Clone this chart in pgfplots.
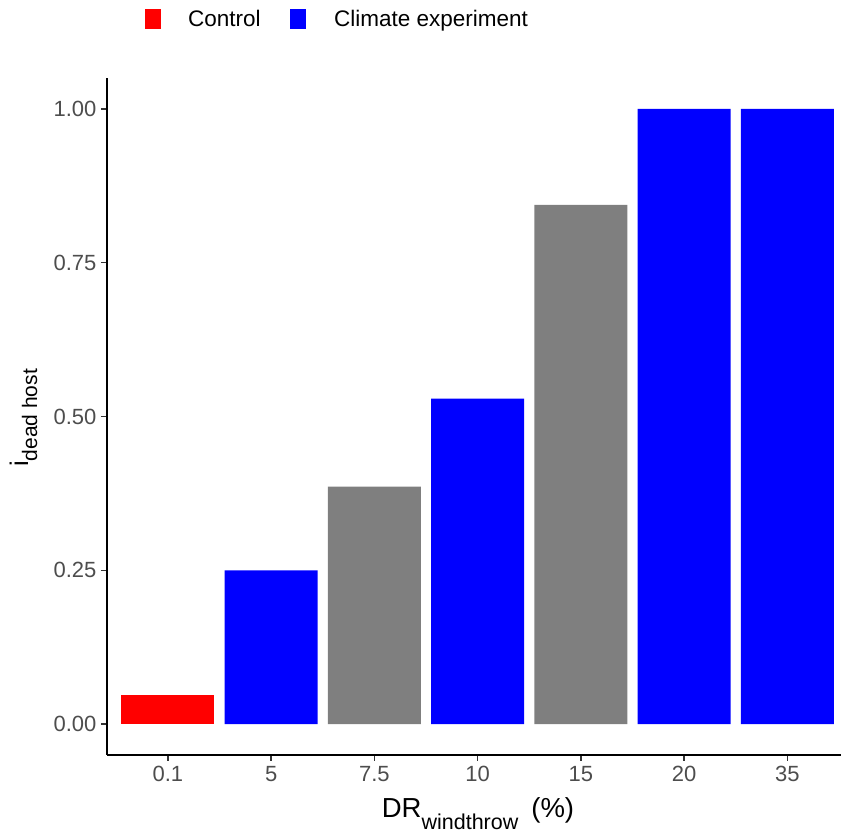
\documentclass[border=0pt]{standalone}
\usepackage{fontspec}
\setmainfont{Liberation Sans}
\usepackage{pgfplots}
\pgfplotsset{compat=1.18}
\definecolor{ticktext}{HTML}{4D4D4D}
\definecolor{tickline}{HTML}{333333}
\definecolor{ggred}{HTML}{FF0000}
\definecolor{ggblue}{HTML}{0000FF}
\definecolor{gggray}{HTML}{7F7F7F}
\begin{document}
\begin{tikzpicture}[x=1pt,y=1pt]
\path[use as bounding box] (0,0) rectangle (841,837);
\begin{axis}[
  at={(107pt,82pt)}, anchor=south west,
  scale only axis, width=734pt, height=677pt,
  xmin=-0.59, xmax=6.52, ymin=-0.05, ymax=1.05,
  axis x line*=bottom, axis y line*=left,
  axis line style={line width=2pt, black, -},
  xtick={0,1,2,3,4,5,6},
  xticklabels={0.1,5,7.5,10,15,20,35},
  ytick={0,0.25,0.5,0.75,1},
  yticklabels={0.00,0.25,0.50,0.75,1.00},
  tick align=outside, major tick length=6pt,
  tick style={line width=1.5pt, color=tickline},
  ticklabel style={font=\fontsize{22}{24}\selectfont, text=ticktext},
  xticklabel style={yshift=-2pt},
  yticklabel style={xshift=-1pt},
  /pgf/number format/assume math mode=true,
]
\addplot[ybar, bar width=0.9, fill=ggred, draw=none] coordinates {(0,0.047)};
\addplot[ybar, bar width=0.9, fill=ggblue, draw=none] coordinates {(1,0.25) (3,0.529) (5,1) (6,1)};
\addplot[ybar, bar width=0.9, fill=gggray, draw=none] coordinates {(2,0.386) (4,0.844)};
\end{axis}
% legend
\fill[ggred] (145,808) rectangle (161,828);
\node[anchor=base west, inner sep=0, font=\fontsize{22.5}{24}\selectfont] at (188,810) {Control};
\fill[ggblue] (290,808) rectangle (306,828);
\node[anchor=base west, inner sep=0, font=\fontsize{22.5}{24}\selectfont] at (334,810) {Climate experiment};
% axis titles
\node[anchor=base, inner sep=0, font=\fontsize{27.5}{30}\selectfont] at (478,19)
  {DR\raisebox{-12pt}{\fontsize{21.5}{22}\selectfont windthrow}\hspace{13pt}(\%)};
\node[anchor=base, rotate=90, inner sep=0, font=\fontsize{25.5}{28}\selectfont] at (28,419)
  {i\raisebox{-9pt}{\fontsize{21}{22}\selectfont dead host}};
\end{tikzpicture}
\end{document}
